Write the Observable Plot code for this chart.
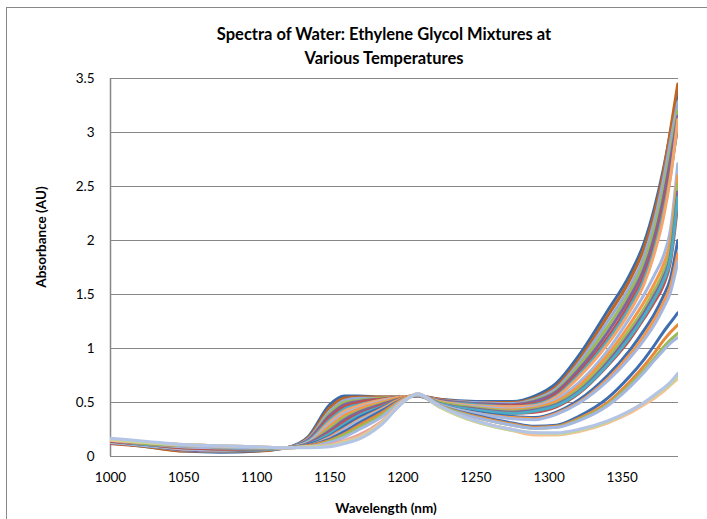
<!DOCTYPE html>
<html>
<head>
<meta charset="utf-8">
<script src="https://cdn.jsdelivr.net/npm/d3@7"></script>
<script src="https://cdn.jsdelivr.net/npm/@observablehq/plot@0.6"></script>
<style>
  html, body { margin: 0; padding: 0; background: #fff; }
  #wrap { position: relative; width: 707px; height: 519px; overflow: hidden; font-family: Lato, "Open Sans", sans-serif; }
  #frame { position: absolute; left: 6px; top: 7px; width: 760px; height: 560px; border: 1.3px solid #898989; box-sizing: border-box; }
  .title { position: absolute; left: 384px; transform: translate(-50%, -50%); white-space: nowrap; font-weight: bold; font-size: 16.5px; color: #000; }
  #ytitle { position: absolute; left: 41px; top: 237px; transform: translate(-50%, -50%) rotate(-90deg); white-space: nowrap; font-weight: bold; font-size: 13.5px; }
  #xtitle { position: absolute; left: 386px; top: 508px; transform: translate(-50%, -50%); white-space: nowrap; font-weight: bold; font-size: 13.5px; }
  #chart { position: absolute; left: 0; top: 0; }
</style>
</head>
<body>
<div id="wrap">
  <div id="frame"></div>
  <div id="chart"></div>
  <div class="title" style="top:34px">Spectra of Water: Ethylene Glycol Mixtures at</div>
  <div class="title" style="top:58px">Various Temperatures</div>
  <div id="ytitle">Absorbance (AU)</div>
  <div id="xtitle">Wavelength (nm)</div>
</div>
<script>
const wavelength = [1000, 1025, 1050, 1075, 1100, 1120, 1135, 1150, 1160, 1170, 1185, 1200, 1210, 1225, 1250, 1275, 1290, 1305, 1320, 1340, 1355, 1365, 1372, 1378, 1383, 1388];

const xTicks = [1000, 1050, 1100, 1150, 1200, 1250, 1300, 1350];
const yTicks = [0, 0.5, 1, 1.5, 2, 2.5, 3, 3.5];

const a1 = [0.13,0.09,0.05,0.04,0.05,0.08,0.18,0.48,0.56,0.56,0.55,0.55,0.56,0.53,0.51,0.51,0.56,0.68,0.93,1.35,1.68,1.98,2.30,2.65,3.00,3.38];
const a2 = [0.12,0.09,0.05,0.05,0.05,0.08,0.17,0.45,0.54,0.55,0.55,0.55,0.56,0.53,0.50,0.50,0.54,0.65,0.89,1.30,1.63,1.93,2.25,2.62,3.02,3.45];
const a3 = [0.14,0.10,0.06,0.05,0.06,0.08,0.16,0.42,0.52,0.54,0.54,0.55,0.56,0.52,0.50,0.49,0.53,0.63,0.86,1.25,1.57,1.86,2.18,2.55,2.92,3.28];
const a4 = [0.13,0.10,0.06,0.05,0.06,0.08,0.15,0.40,0.50,0.52,0.54,0.55,0.56,0.52,0.49,0.48,0.52,0.61,0.83,1.20,1.52,1.80,2.10,2.45,2.82,3.20];
const a5 = [0.13,0.10,0.06,0.05,0.06,0.08,0.15,0.38,0.48,0.51,0.53,0.55,0.56,0.52,0.49,0.48,0.51,0.60,0.80,1.15,1.47,1.74,2.03,2.38,2.75,3.15];
const a6 = [0.12,0.10,0.07,0.06,0.06,0.08,0.14,0.36,0.46,0.50,0.53,0.55,0.56,0.51,0.48,0.47,0.49,0.58,0.77,1.10,1.42,1.68,1.96,2.30,2.65,3.05];
const a7 = [0.13,0.10,0.07,0.06,0.06,0.08,0.14,0.34,0.44,0.48,0.52,0.55,0.56,0.51,0.48,0.46,0.48,0.56,0.75,1.07,1.38,1.64,1.92,2.25,2.60,3.10];
const a8 = [0.14,0.11,0.07,0.06,0.07,0.08,0.13,0.32,0.42,0.47,0.52,0.55,0.56,0.51,0.47,0.46,0.47,0.55,0.73,1.04,1.34,1.60,1.88,2.20,2.58,3.12];

const b1 = [0.13,0.10,0.07,0.06,0.07,0.08,0.13,0.30,0.40,0.45,0.51,0.55,0.56,0.50,0.46,0.44,0.46,0.53,0.68,0.98,1.28,1.50,1.68,1.85,2.10,2.71];
const b2 = [0.14,0.11,0.08,0.07,0.07,0.08,0.12,0.28,0.38,0.44,0.50,0.55,0.56,0.50,0.45,0.43,0.45,0.51,0.65,0.94,1.22,1.43,1.60,1.77,2.00,2.60];
const b3 = [0.14,0.11,0.08,0.07,0.07,0.08,0.12,0.26,0.36,0.42,0.49,0.54,0.56,0.50,0.45,0.42,0.44,0.49,0.62,0.90,1.17,1.37,1.54,1.70,1.92,2.52];
const b4 = [0.14,0.11,0.08,0.07,0.07,0.08,0.12,0.24,0.34,0.41,0.48,0.54,0.56,0.49,0.44,0.41,0.43,0.48,0.60,0.87,1.13,1.33,1.49,1.65,1.86,2.45];
const b5 = [0.14,0.11,0.08,0.07,0.07,0.08,0.11,0.22,0.32,0.39,0.47,0.54,0.57,0.49,0.43,0.40,0.41,0.46,0.58,0.84,1.08,1.28,1.43,1.58,1.80,2.34];
const b6 = [0.15,0.11,0.09,0.08,0.07,0.08,0.11,0.21,0.30,0.38,0.46,0.54,0.57,0.49,0.43,0.40,0.42,0.47,0.59,0.85,1.10,1.30,1.46,1.62,1.83,2.40];

const p1 = [0.15,0.12,0.09,0.08,0.08,0.08,0.11,0.19,0.28,0.36,0.45,0.54,0.57,0.48,0.41,0.37,0.36,0.41,0.52,0.75,0.98,1.17,1.32,1.48,1.65,2.00];
const p2 = [0.15,0.12,0.09,0.08,0.08,0.08,0.10,0.18,0.26,0.34,0.44,0.54,0.57,0.48,0.40,0.36,0.35,0.40,0.50,0.72,0.94,1.12,1.27,1.42,1.58,1.88];
const p3 = [0.15,0.12,0.09,0.08,0.08,0.08,0.10,0.17,0.25,0.33,0.43,0.53,0.57,0.48,0.40,0.35,0.34,0.39,0.49,0.70,0.91,1.08,1.22,1.37,1.52,1.80];

const c1 = [0.15,0.12,0.10,0.09,0.08,0.08,0.10,0.16,0.23,0.31,0.42,0.53,0.57,0.47,0.38,0.31,0.28,0.29,0.37,0.54,0.74,0.90,1.03,1.15,1.24,1.33];
const c2 = [0.15,0.12,0.10,0.09,0.08,0.08,0.10,0.15,0.21,0.29,0.40,0.53,0.57,0.47,0.37,0.30,0.27,0.28,0.35,0.50,0.69,0.84,0.96,1.07,1.15,1.22];
const c3 = [0.16,0.12,0.10,0.09,0.08,0.08,0.09,0.14,0.20,0.27,0.38,0.52,0.57,0.47,0.36,0.29,0.26,0.27,0.34,0.48,0.66,0.80,0.91,1.01,1.08,1.14];
const c4 = [0.16,0.13,0.10,0.09,0.08,0.08,0.09,0.13,0.18,0.25,0.36,0.52,0.57,0.46,0.36,0.29,0.26,0.27,0.33,0.47,0.64,0.78,0.89,0.98,1.05,1.10];

const d1 = [0.15,0.13,0.11,0.10,0.09,0.08,0.09,0.11,0.15,0.20,0.32,0.51,0.58,0.47,0.33,0.25,0.21,0.21,0.24,0.32,0.41,0.49,0.55,0.61,0.67,0.73];
const d2 = [0.15,0.13,0.11,0.10,0.09,0.08,0.09,0.10,0.14,0.18,0.31,0.51,0.58,0.46,0.32,0.24,0.20,0.20,0.23,0.31,0.40,0.48,0.54,0.60,0.66,0.72];
const d3 = [0.16,0.13,0.11,0.10,0.09,0.08,0.09,0.10,0.13,0.17,0.30,0.50,0.58,0.46,0.32,0.24,0.22,0.21,0.24,0.32,0.42,0.50,0.56,0.62,0.67,0.74];
const d4 = [0.17,0.14,0.11,0.10,0.09,0.08,0.08,0.09,0.12,0.16,0.29,0.50,0.58,0.47,0.33,0.25,0.22,0.22,0.25,0.33,0.42,0.50,0.57,0.63,0.69,0.77];

const seriesList = [a1, a2, a3, a4, a5, a6, a7, a8, b1, b2, b3, b4, b5, b6, p1, p2, p3, c1, c2, c3, c4, d1, d2, d3, d4];
const seriesColors = [
  "#3B6AA8", "#C0651F", "#95ABDA", "#9BBB59", "#8064A2", "#C0504D", "#4BACC6", "#F5A46A",
  "#A4B7E0", "#F79646", "#9BBB59", "#8064A2", "#C0504D", "#4BACC6",
  "#3E6EB0", "#F79646", "#A4B7E0",
  "#3E6EB0", "#E8883A", "#9BBB59", "#A4B7E0",
  "#E6A3A1", "#F9C08F", "#C3D69B", "#B4C4E6"
];

const gridColor = "#878787";

const chart = Plot.plot({
  width: 707,
  height: 519,
  marginLeft: 110,
  marginRight: 29,
  marginTop: 78,
  marginBottom: 63,
  style: { fontFamily: "Lato, 'Open Sans', sans-serif", fontSize: "13.5px", color: "#000", background: "transparent", overflow: "visible" },
  x: { domain: [1000, 1388.5], label: null },
  y: { domain: [0, 3.5], label: null },
  marks: [
    Plot.ruleY(yTicks, { y: d => d, stroke: gridColor, strokeWidth: 1.2 }),
    Plot.ruleX([1000], { x: d => d, stroke: gridColor, strokeWidth: 1.5 }),
    ...seriesList.map((vals, i) => Plot.line(wavelength, {
      x: d => d,
      y: (d, j) => vals[j],
      stroke: seriesColors[i],
      strokeWidth: 3,
      curve: "monotone-x",
      clip: true
    })),
    Plot.axisX(xTicks, { tickSize: 0, tickPadding: 16, tickFormat: d => String(d), fontSize: 13.5, fill: "#000" }),
    Plot.axisY(yTicks, { tickSize: 0, tickPadding: 16, tickFormat: d => String(d), fontSize: 13.5, fill: "#000" })
  ]
});
document.getElementById("chart").appendChild(chart);
</script>
</body>
</html>
